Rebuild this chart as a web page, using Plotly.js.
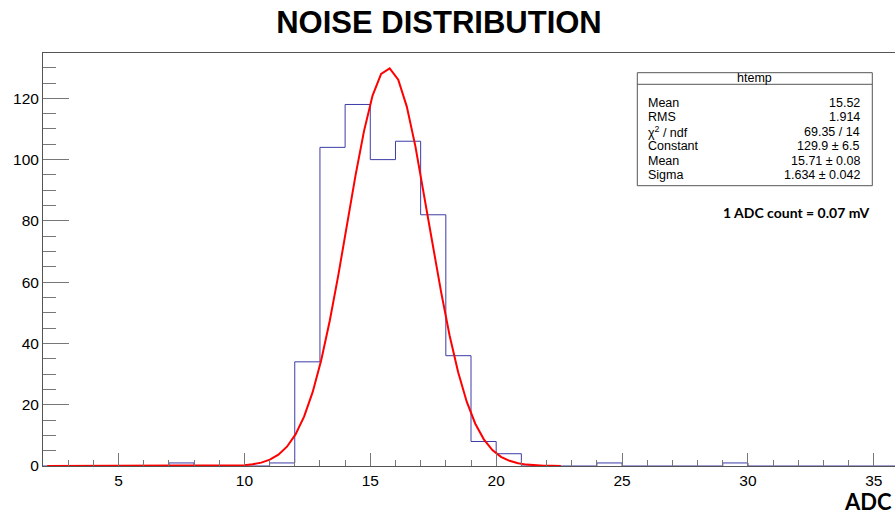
<!DOCTYPE html>
<html>
<head>
<meta charset="utf-8">
<script src="https://cdn.plot.ly/plotly-3.0.1.min.js"></script>
<style>
html, body { margin: 0; padding: 0; background: #ffffff; overflow: hidden; }
#chart { width: 900px; height: 515px; }
</style>
</head>
<body>
<div id="chart"></div>
<script>
// ---- Histogram (bin edges and counts) ----
const binEdges = [2, 3, 4, 5, 6, 7, 8, 9, 10, 11, 12, 13, 14, 15, 16, 17, 18, 19,
                  20, 21, 22, 23, 24, 25, 26, 27, 28, 29, 30, 31, 32, 33, 34, 35, 36];
const binCounts = [0, 0, 0, 0, 0, 1, 0, 0, 0, 1, 34, 104, 118, 100, 106, 82, 36, 8,
                   4, 0, 0, 0, 1, 0, 0, 0, 0, 1, 0, 0, 0, 0, 0, 0];

// ---- Gaussian fit curve, points ----
const fitX = [2.17, 9.31, 9.65, 9.99, 10.33, 10.67, 11.01, 11.35, 11.69, 12.03, 12.37,
              12.71, 13.05, 13.39, 13.73, 14.07, 14.41, 14.75, 15.09, 15.43, 15.77,
              16.11, 16.45, 16.79, 17.13, 17.47, 17.81, 18.15, 18.49, 18.83, 19.17,
              19.51, 19.85, 20.19, 20.53, 20.87, 21.21, 21.55, 21.89, 22.23, 22.57];
const fitY = [0, 0.05, 0.13, 0.28, 0.58, 1.1, 2.1, 3.7, 6.3, 10.3, 16.1,
              24.1, 34.5, 47.4, 62.3, 78.5, 94.7, 109.3, 120.9, 128.0, 129.8,
              126.1, 117.3, 104.4, 89.1, 72.7, 56.9, 42.6, 30.6, 21.0, 13.8,
              8.7, 5.2, 3.0, 1.7, 0.9, 0.45, 0.22, 0.1, 0.05, 0.02];

// ---- Text ----
const chartTitle = "NOISE DISTRIBUTION";
const xTitle = "ADC";
const statsName = "htemp";
const statLabels = ["Mean", "RMS", "χ<sup>2</sup> / ndf", "Constant", "Mean", "Sigma"];
const statValues = ["15.52", "1.914", "69.35 / 14", "129.9 ± 6.5", "15.71 ± 0.08", "1.634 ± 0.042"];
const noteText = "1 ADC count = 0.07 mV";

// ---- Build traces ----
const stepX = binEdges.slice();
const stepY = binCounts.concat([binCounts[binCounts.length - 1]]);

const histTrace = {
  type: "scatter", mode: "lines",
  x: stepX, y: stepY,
  line: { shape: "hv", color: "#3c3ca8", width: 1 },
  hoverinfo: "skip", showlegend: false
};
const fitTrace = {
  type: "scatter", mode: "lines",
  x: fitX, y: fitY,
  line: { color: "#ff0000", width: 2 },
  hoverinfo: "skip", showlegend: false
};

// ---- Layout helpers (pixel -> paper) ----
const L = 43, R = 899, T = 53, B = 466;
const px = v => (v - L) / (R - L);
const py = v => (B - v) / (B - T);

const statFont = { family: "Liberation Sans, Arial, sans-serif", size: 12.5, color: "#000" };
const statRowsY = [102.7, 117.3, 131.7, 146.3, 160.7, 174.7];
const annotations = [];
annotations.push({
  text: statsName, xref: "paper", yref: "paper", x: px(754.8), y: py(78.3),
  xanchor: "center", yanchor: "middle", showarrow: false, font: statFont, borderpad: 0, borderwidth: 0
});
statLabels.forEach((lab, i) => {
  annotations.push({
    text: lab, xref: "paper", yref: "paper", x: px(648), y: py(statRowsY[i]),
    xanchor: "left", yanchor: "middle", showarrow: false, font: statFont, borderpad: 0, borderwidth: 0
  });
  annotations.push({
    text: statValues[i], xref: "paper", yref: "paper", x: px(860), y: py(statRowsY[i]),
    xanchor: "right", yanchor: "middle", showarrow: false, font: statFont, borderpad: 0, borderwidth: 0
  });
});
annotations.push({
  text: "<b>" + noteText + "</b>", xref: "paper", yref: "paper", x: px(796), y: py(212),
  xanchor: "center", yanchor: "middle", showarrow: false, borderpad: 0, borderwidth: 0,
  font: { family: "Lato, Open Sans, sans-serif", size: 14, color: "#000" }
});
annotations.push({
  text: "<b>" + xTitle + "</b>", xref: "paper", yref: "paper", x: px(892), y: py(501.8),
  xanchor: "right", yanchor: "middle", showarrow: false, borderpad: 0, borderwidth: 0,
  font: { family: "Lato, Open Sans, sans-serif", size: 22, color: "#000" }
});

const shapes = [
  { type: "rect", xref: "paper", yref: "paper", x0: px(637.3), x1: px(872.3), y0: py(185.7), y1: py(72.7),
    line: { color: "#555", width: 1 }, fillcolor: "#ffffff", layer: "above" },
  { type: "line", xref: "paper", yref: "paper", x0: px(637.3), x1: px(872.3), y0: py(84.3), y1: py(84.3),
    line: { color: "#555", width: 1 }, layer: "above" }
];

const tickFont = { family: "Liberation Sans, Arial, sans-serif", size: 15.5, color: "#000" };

const layout = {
  width: 900, height: 515,
  margin: { l: L, r: 900 - R, t: T, b: 515 - B, pad: 0 },
  paper_bgcolor: "#ffffff", plot_bgcolor: "#ffffff",
  title: {
    text: "<b>" + chartTitle + "</b>",
    font: { family: "Liberation Sans, Arial, sans-serif", size: 31, color: "#000" },
    xref: "paper", x: px(439), xanchor: "center",
    yref: "container", y: 1 - 22 / 515, yanchor: "middle"
  },
  xaxis: {
    range: [2, 36], showgrid: false, zeroline: false,
    showline: true, linecolor: "#555", linewidth: 1, mirror: true,
    ticks: "inside", tick0: 0, dtick: 5, ticklen: 13, tickcolor: "#777", tickwidth: 1,
    minor: { ticks: "inside", tick0: 0, dtick: 1, ticklen: 6, tickcolor: "#777", tickwidth: 1 },
    tickfont: tickFont, fixedrange: true
  },
  yaxis: {
    range: [0, 134.8], showgrid: false, zeroline: false,
    showline: true, linecolor: "#555", linewidth: 1, mirror: true,
    ticks: "inside", tick0: 0, dtick: 20, ticklen: 26, tickcolor: "#777", tickwidth: 1,
    minor: { ticks: "inside", tick0: 0, dtick: 5, ticklen: 13, tickcolor: "#777", tickwidth: 1 },
    tickfont: tickFont, fixedrange: true
  },
  annotations: annotations,
  shapes: shapes,
  showlegend: false
};

Plotly.newPlot("chart", [histTrace, fitTrace], layout, { displayModeBar: false, staticPlot: true, responsive: false });
</script>
</body>
</html>
